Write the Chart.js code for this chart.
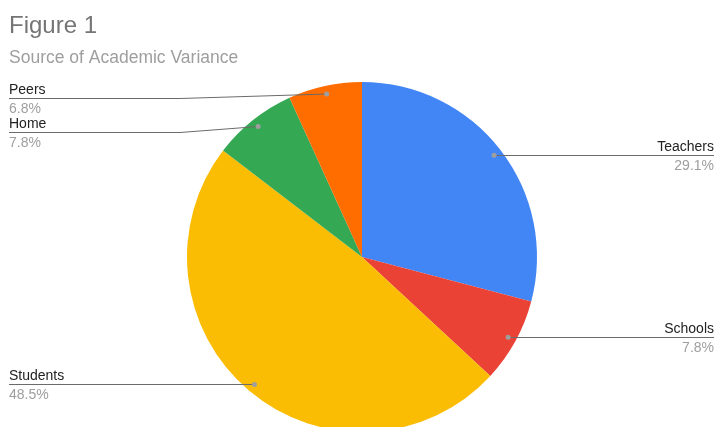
<!DOCTYPE html>
<html>
<head>
<meta charset="utf-8">
<script src="https://cdn.jsdelivr.net/npm/chart.js@4/dist/chart.umd.min.js"></script>
<style>
  html, body { margin: 0; padding: 0; background: #fff; overflow: hidden; }
  #wrap { position: relative; width: 715px; height: 440px; }
</style>
</head>
<body>
<div id="wrap"><canvas id="pieChart"></canvas></div>
<script>
// Data
const labels = ["Teachers", "Schools", "Students", "Home", "Peers"];
const values = [29.1, 7.8, 48.5, 7.8, 6.8];
const colors = ["#4285F4", "#EA4335", "#FBBC04", "#34A853", "#FF6D01"];
const titleText = "Figure 1";
const subtitleText = "Source of Academic Variance";

const FONT = "'Liberation Sans', Arial, sans-serif";

// draws title, leader lines and the labels on the side
const sideLabels = {
  id: "sideLabels",
  afterDraw(chart) {
    const ctx = chart.ctx;
    const W = chart.width;
    ctx.save();

    ctx.fillStyle = "#757575";
    ctx.font = "24px " + FONT;
    ctx.textBaseline = "alphabetic";
    ctx.textAlign = "left";
    ctx.fillText(titleText, 9, 33);
    ctx.fillStyle = "#9e9e9e";
    ctx.font = "17.5px " + FONT;
    ctx.fillText(subtitleText, 9, 63);

    const arcs = chart.getDatasetMeta(0).data;
    const total = values.reduce((a, b) => a + b, 0);
    const left = [], right = [];
    arcs.forEach(function (arc, i) {
      const mid = (arc.startAngle + arc.endAngle) / 2;
      const r = arc.outerRadius * 0.953;
      const px = arc.x + Math.cos(mid) * r;
      const py = arc.y + Math.sin(mid) * r;
      const item = { i: i, px: px, py: py, ly: Math.round(py),
        pct: (values[i] / total * 100).toFixed(1) + "%" };
      if (px < arc.x) left.push(item); else right.push(item);
    });

    // spread labels so they don't overlap
    [left, right].forEach(function (side) {
      side.sort((a, b) => a.py - b.py);
      let prev = 98 - 34;
      side.forEach(function (it) {
        if (it.ly < prev + 34) it.ly = prev + 34;
        prev = it.ly;
      });
    });

    ctx.lineWidth = 1;
    ctx.strokeStyle = "#6b6b6b";
    left.forEach(function (it) {
      ctx.beginPath();
      ctx.moveTo(it.px, it.py);
      ctx.lineTo(180, it.ly + 0.5);
      ctx.lineTo(9, it.ly + 0.5);
      ctx.stroke();
    });
    right.forEach(function (it) {
      ctx.beginPath();
      ctx.moveTo(it.px, it.ly + 0.5);
      ctx.lineTo(714, it.ly + 0.5);
      ctx.stroke();
    });

    ctx.fillStyle = "#9e9e9e";
    left.concat(right).forEach(function (it) {
      ctx.beginPath();
      ctx.arc(it.px, it.py, 2.5, 0, Math.PI * 2);
      ctx.fill();
    });

    ctx.font = "14px " + FONT;
    function text(it, x, align) {
      ctx.textAlign = align;
      ctx.fillStyle = "#222222";
      ctx.fillText(labels[it.i], x, it.ly - 4);
      ctx.fillStyle = "#9e9e9e";
      ctx.fillText(it.pct, x, it.ly + 15);
    }
    left.forEach(it => text(it, 9, "left"));
    right.forEach(it => text(it, 714, "right"));
    ctx.restore();
  }
};

const ctxPie = document.getElementById("pieChart").getContext("2d");
new Chart(ctxPie, {
  type: "pie",
  data: {
    labels: labels,
    datasets: [{
      data: values,
      backgroundColor: colors,
      borderWidth: 0
    }]
  },
  options: {
    responsive: true,
    maintainAspectRatio: false,
    animation: false,
    layout: { padding: { top: 82, bottom: 8, left: 187, right: 178 } },
    plugins: {
      legend: { display: false },
      tooltip: { enabled: false },
      title: { display: false }
    }
  },
  plugins: [sideLabels]
});
</script>
</body>
</html>
